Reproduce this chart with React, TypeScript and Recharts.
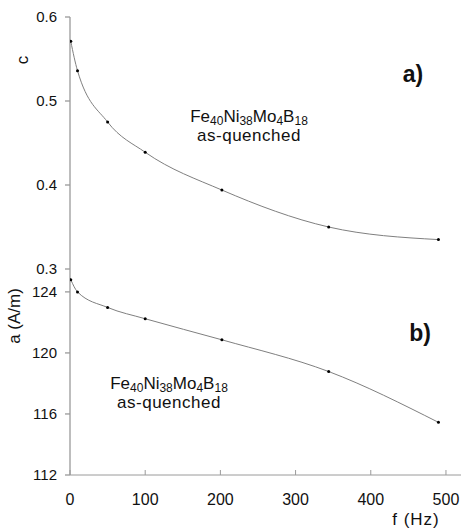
import { LineChart, Line, XAxis, YAxis } from "recharts";

const freq = [1, 10, 50, 100, 202, 344, 490];
const cValues = [0.571, 0.536, 0.475, 0.439, 0.394, 0.35, 0.335];
const aValues = [124.8, 124.0, 122.98, 122.24, 120.86, 118.78, 115.45];
const xTicks = [0, 100, 200, 300, 400, 500];
const cTicks = [0.3, 0.4, 0.5, 0.6];
const aTicks = [112, 116, 120, 124];

const cData = freq.map((f, i) => ({ f, v: cValues[i] }));
const aData = freq.map((f, i) => ({ f, v: aValues[i] }));

const FONT = "'Liberation Sans', Arial, sans-serif";
const axisColor = "#9a9a9a";
const lineColor = "#7f7f7f";
const dotStyle = { r: 1.5, fill: "#000", stroke: "none" };

function Alloy({ x, y }: { x: number; y: number }) {
  return (
    <g fontFamily={FONT} fill="#111" textAnchor="middle">
      <text x={x} y={y} fontSize={17}>
        Fe<tspan fontSize={12} dy={3}>40</tspan>
        <tspan dy={-3}>Ni</tspan>
        <tspan fontSize={12} dy={3}>38</tspan>
        <tspan dy={-3}>Mo</tspan>
        <tspan fontSize={12} dy={3}>4</tspan>
        <tspan dy={-3}>B</tspan>
        <tspan fontSize={12} dy={3}>18</tspan>
      </text>
      <text x={x} y={y + 19} fontSize={17} letterSpacing={0.5}>
        as-quenched
      </text>
    </g>
  );
}

export default function App() {
  return (
    <div style={{ position: "absolute", left: 0, top: 0, width: 463, height: 528, background: "#fff" }}>
      <div style={{ position: "absolute", left: 0, top: 0 }}>
        <LineChart width={463} height={280} data={cData} margin={{ top: 17, right: 2, left: 0, bottom: 11 }}>
          <XAxis
            dataKey="f"
            type="number"
            domain={[0, 520]}
            ticks={xTicks}
            tick={false}
            tickSize={-5}
            height={0}
            stroke={axisColor}
            allowDataOverflow
          />
          <YAxis
            type="number"
            domain={[0.3, 0.6]}
            ticks={cTicks}
            width={70}
            tickSize={5}
            tickMargin={8}
            stroke={axisColor}
            strokeWidth={1.3}
            tick={{ fill: "#111", fontSize: 15, fontFamily: FONT }}
            allowDataOverflow
          />
          <Line dataKey="v" type="monotone" stroke={lineColor} strokeWidth={1} dot={dotStyle} isAnimationActive={false} />
        </LineChart>
      </div>
      <div style={{ position: "absolute", left: 0, top: 259 }}>
        <LineChart width={463} height={269} data={aData} margin={{ top: 10, right: 2, left: 0, bottom: 0 }}>
          <XAxis
            dataKey="f"
            type="number"
            domain={[0, 520]}
            ticks={xTicks}
            tickSize={-5}
            tickMargin={24}
            height={53}
            stroke={axisColor}
            tick={{ fill: "#111", fontSize: 16, fontFamily: FONT }}
            allowDataOverflow
          />
          <YAxis
            type="number"
            domain={[112, 125.5]}
            ticks={aTicks}
            width={70}
            tickSize={5}
            tickMargin={8}
            stroke={axisColor}
            strokeWidth={1.3}
            tick={{ fill: "#111", fontSize: 15, fontFamily: FONT }}
            allowDataOverflow
          />
          <Line dataKey="v" type="monotone" stroke={lineColor} strokeWidth={1} dot={dotStyle} isAnimationActive={false} />
        </LineChart>
      </div>
      <svg width={463} height={528} style={{ position: "absolute", left: 0, top: 0, pointerEvents: "none" }}>
        <text x={22} y={60} fontFamily={FONT} fontSize={17} fill="#111" textAnchor="middle" dominantBaseline="central" transform="rotate(-90 22 60)">
          c
        </text>
        <text x={14} y={316} fontFamily={FONT} fontSize={17} fill="#111" textAnchor="middle" dominantBaseline="central" transform="rotate(-90 14 316)">
          a (A/m)
        </text>
        <text x={413} y={82} fontFamily={FONT} fontSize={23} fontWeight="bold" fill="#111" textAnchor="middle">
          a)
        </text>
        <text x={420} y={341} fontFamily={FONT} fontSize={23} fontWeight="bold" fill="#111" textAnchor="middle">
          b)
        </text>
        <Alloy x={249} y={122} />
        <Alloy x={169} y={389} />
        <text x={416} y={525} fontFamily={FONT} fontSize={17} fill="#111" textAnchor="middle" letterSpacing={1}>
          f (Hz)
        </text>
      </svg>
    </div>
  );
}
